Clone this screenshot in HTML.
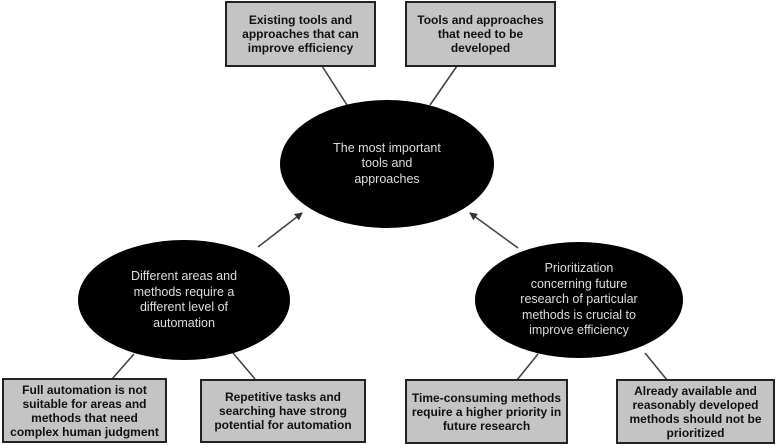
<!DOCTYPE html>
<html><head><style>
body{margin:0;width:777px;height:445px;background:#fff;overflow:hidden;position:relative;font-family:"Liberation Sans",Arial,sans-serif}
.b{position:absolute;box-sizing:border-box;background:#c4c4c4;border:2px solid #222;display:flex;align-items:center;justify-content:center;text-align:center;font-weight:bold;font-size:12px;line-height:14px;color:#111}
.e{position:absolute;background:#000;border-radius:50%;display:flex;align-items:center;justify-content:center;text-align:center;color:#ddd;font-size:12.5px;line-height:15.5px}
</style></head><body>
<svg width="777" height="445" style="position:absolute;left:0;top:0">
<defs><marker id="a" markerWidth="8" markerHeight="8" refX="7" refY="4" orient="auto" markerUnits="userSpaceOnUse"><path d="M0,0L8,4L0,8z" fill="#333"/></marker></defs>
<g stroke="#444" stroke-width="1.6">
<line x1="322" y1="66" x2="347" y2="105"/>
<line x1="457" y1="66" x2="430" y2="105"/>
<line x1="258" y1="247" x2="302" y2="213" marker-end="url(#a)"/>
<line x1="518" y1="248" x2="470" y2="213" marker-end="url(#a)"/>
<line x1="112" y1="379" x2="134" y2="354"/>
<line x1="255" y1="379" x2="233" y2="353"/>
<line x1="517" y1="380" x2="538" y2="354"/>
<line x1="667" y1="380" x2="645" y2="353"/>
</g></svg>
<div class="b" style="left:225px;top:1px;width:151px;height:66px">Existing tools and<br>approaches that can<br>improve efficiency</div>
<div class="b" style="left:405px;top:1px;width:151px;height:66px">Tools and approaches<br>that need to be<br>developed</div>
<div class="e" style="left:280px;top:100px;width:214px;height:128px">The most important<br>tools and<br>approaches</div>
<div class="e" style="left:78px;top:240px;width:212px;height:120px">Different areas and<br>methods require a<br>different level of<br>automation</div>
<div class="e" style="left:475px;top:242px;width:208px;height:116px">Prioritization<br>concerning future<br>research of particular<br>methods is crucial to<br>improve efficiency</div>
<div class="b" style="left:2px;top:378px;width:165px;height:65px">Full automation is not<br>suitable for areas and<br>methods that need<br>complex human judgment</div>
<div class="b" style="left:200px;top:379px;width:166px;height:64px">Repetitive tasks and<br>searching have strong<br>potential for automation</div>
<div class="b" style="left:405px;top:379px;width:163px;height:65px">Time-consuming methods<br>require a higher priority in<br>future research</div>
<div class="b" style="left:616px;top:379px;width:159px;height:65px">Already available and<br>reasonably developed<br>methods should not be<br>prioritized</div>
</body></html>
